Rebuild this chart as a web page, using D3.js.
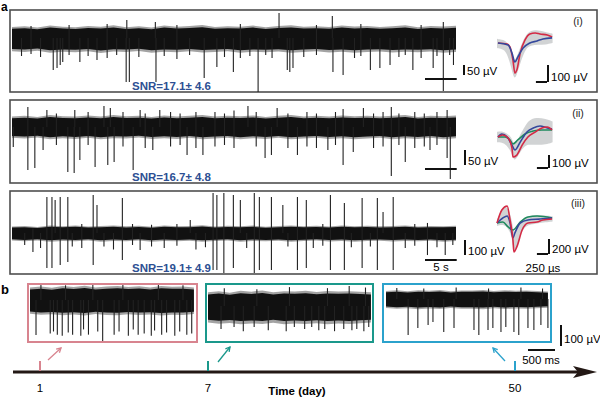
<!DOCTYPE html>
<html><head><meta charset="utf-8">
<script src="https://cdn.jsdelivr.net/npm/d3@7"></script>
<style>body{margin:0;background:#fff}svg{display:block}text{font-family:Arial,"Liberation Sans",sans-serif}</style>
</head><body><svg id="c" width="600" height="399"></svg>
<script>
// ---------- DATA ----------
const panelLabels = ["(i)", "(ii)", "(iii)"];
const snrTexts = ["SNR=17.1\u00b1 4.6", "SNR=16.7\u00b1 4.8", "SNR=19.1\u00b1 4.9"];
const traceScaleLabels = ["50 \u00b5V", "50 \u00b5V", "100 \u00b5V"];
const traceScaleValues = [50, 50, 100];
const waveScaleLabels = ["100 \u00b5V", "100 \u00b5V", "200 \u00b5V"];
const waveScaleValues = [100, 100, 200];
const timeBarLabel = "5 s", timeBarValue = 5;
const waveTimeLabel = "250 \u00b5s", waveTimeValue = 0.25;

// envelope sample times (s) for panel a traces
const envTA = [0,2,4,6,8,10,12,14,16,18,20,22,24,26,28,30,32,34,36,38,40,42,44,46,48,50,52,54,56,58,60,62,64,66,68,70];
const upA1 = [46,49,44,52,47,45,50,47,53,45,49,44,52,47,50,54,46,49,47,52,45,50,53,47,49,46,52,48,50,46,49,53,45,50,48,51];
const loA1 = [-55,-58,-53,-61,-57,-59,-55,-62,-56,-58,-54,-61,-57,-59,-55,-60,-58,-55,-61,-57,-59,-56,-61,-58,-55,-60,-57,-61,-58,-56,-60,-57,-59,-56,-61,-58];
const upA2 = [29,31,28,33,30,29,32,29,33,30,31,28,32,29,31,33,29,31,30,32,28,31,33,29,31,29,32,30,31,29,31,33,28,31,30,32];
const loA2 = [-30,-32,-29,-34,-31,-33,-30,-34,-31,-32,-29,-33,-31,-33,-30,-34,-32,-30,-34,-31,-33,-30,-34,-32,-30,-33,-31,-34,-32,-30,-34,-31,-33,-30,-34,-31];
const upA3 = [36,39,34,41,38,42,36,39,41,37,40,35,41,38,39,43,36,40,38,41,35,39,42,38,40,36,41,38,40,37,39,42,36,39,38,40];
const loA3 = [-42,-46,-41,-48,-44,-46,-42,-49,-44,-46,-41,-48,-44,-46,-43,-48,-45,-42,-48,-44,-46,-43,-48,-45,-42,-47,-44,-48,-45,-43,-47,-44,-46,-43,-48,-45];

// spikes: [time s, positive peak uV, negative peak uV]
const spikesA1 = [[1.5,0,-90],[3.0,60,-80],[4.5,0,-95],[6.5,0,-160],[7.1,0,-150],[7.6,0,-135],[8.0,0,-120],[9.0,65,-85],[10.7,0,-120],[12.0,0,-90],[13.4,0,-110],[15.0,70,-100],[16.5,0,-85],[18.0,0,-220],[18.1,90,0],[18.5,0,-220],[20.0,0,-95],[22.6,80,0],[22.7,0,-220],[24.0,0,-90],[26.0,65,-105],[28.0,0,-85],[30.3,0,-200],[32.3,0,-145],[33.5,0,-95],[34.9,0,-170],[36.0,70,-100],[37.5,0,-90],[38.8,0,-270],[40.0,0,-85],[41.0,0,-100],[42.1,125,0],[43.4,0,-160],[43.8,0,-170],[44.3,0,-150],[46.0,0,-95],[48.0,65,-85],[50.5,110,0],[50.6,0,-170],[52.2,0,-185],[54.0,0,-100],[55.0,70,-90],[56.5,0,-160],[58.0,0,-150],[59.6,0,-135],[61.0,0,-95],[62.0,0,-85],[63.2,0,-160],[64.5,65,-100],[66.4,0,-150],[67.0,0,-90],[68.0,80,-265],[69.0,0,-85],[69.6,0,-135]];
const spikesA2 = [[0.2,0,-67],[2.5,67,-143],[3.6,0,-137],[4.9,0,-77],[5.5,57,0],[7.0,45,-60],[8.8,0,-150],[9.8,0,-153],[9.9,57,0],[10.7,0,-110],[12.0,50,-60],[13.1,0,-133],[14.5,70,0],[15.1,0,-127],[15.5,63,0],[16.1,0,-117],[17.5,50,-65],[19.1,0,-143],[20.2,57,0],[21.0,45,-70],[22.2,0,-77],[23.3,57,0],[25.0,50,-65],[26.5,45,-60],[27.6,0,-93],[29.0,50,-70],[30.1,0,-93],[32.0,50,-65],[33.5,45,-60],[35.0,55,-70],[37.2,70,0],[38.5,50,-65],[39.9,0,-103],[40.9,0,-93],[41.8,63,0],[43.5,45,-70],[45.0,0,-93],[46.5,50,-65],[48.0,45,-70],[49.8,0,-77],[51.0,50,-60],[52.2,60,-127],[53.8,0,-83],[55.4,63,0],[57.0,45,-70],[58.5,50,-65],[59.8,67,-163],[61.0,45,-60],[62.0,0,-117],[63.5,50,-70],[65.0,45,-65],[65.9,0,-77],[67.0,50,-60],[68.6,57,-103],[69.1,0,-173]];
const spikesA3 = [[2.0,0,-80],[3.3,30,-127],[4.5,0,-100],[5.5,240,-233],[6.3,240,-233],[6.8,220,0],[7.6,240,-213],[8.8,240,-193],[9.5,0,-90],[11.0,60,-100],[12.8,253,-213],[13.4,187,0],[14.5,0,-90],[16.0,0,-110],[17.4,233,-180],[19.0,60,-80],[20.2,0,-113],[22.0,55,-90],[24.0,0,-100],[26.0,60,-85],[28.1,87,0],[29.0,0,-110],[30.5,0,-95],[31.7,267,-247],[32.3,253,-247],[33.4,267,-267],[34.9,253,-233],[36.0,220,0],[37.0,0,-100],[38.2,267,-267],[39.0,240,-247],[40.9,240,-247],[42.7,187,0],[43.5,0,-90],[45.0,240,-247],[46.4,220,-233],[47.5,0,-100],[49.0,60,-85],[50.2,253,-247],[52.4,200,-247],[53.5,0,-95],[55.2,233,-233],[56.5,0,-90],[57.6,233,-247],[58.5,140,0],[60.1,240,-247],[62.0,0,-100],[63.5,60,-85],[65.5,67,-147],[67.0,0,-95],[68.3,0,-147],[69.5,0,-80]];

// spike waveforms: time (ms), amplitude (uV)
const waveT1 = [0.02,0.21,0.27,0.33,0.37,0.41,0.48,0.58,0.68,0.79,0.89,1.04,1.14];
const waveRed1 = [0,-6,-24,-100,-177,-159,-59,18,53,59,53,47,35];
const waveTb1 = [0.02,0.23,0.31,0.37,0.43,0.54,0.68,0.83,0.95,1.14];
const waveBlue1 = [0,-12,-59,-112,-83,-30,0,12,24,30];
const waveT2r = [0.02,0.12,0.23,0.31,0.33,0.41,0.52,0.64,0.79,0.93,1.04,1.14];
const waveRed2 = [0,15,-8,-85,-154,-139,-62,0,38,69,77,54];
const waveT2b = [0.02,0.10,0.21,0.31,0.37,0.48,0.62,0.75,0.89,1.04,1.14];
const waveBlue2 = [0,23,0,-62,-100,-39,39,69,85,69,62];
const waveT2g = [0.02,0.17,0.27,0.33,0.43,0.58,0.75,0.93,1.14];
const waveGreen2 = [0,0,-23,-54,-23,23,46,54,54];
const waveT3r = [0,0.10,0.21,0.27,0.33,0.35,0.41,0.52,0.64,0.83,0.95,1.14];
const waveRed3 = [0,173,226,40,-226,-386,-319,-93,0,13,40,53];
const waveT3b = [0,0.12,0.21,0.27,0.33,0.37,0.48,0.64,0.89,1.14];
const waveBlue3 = [0,67,93,0,-200,-133,0,40,53,67];
const waveT3g = [0,0.12,0.23,0.33,0.48,0.64,0.83,1.14];
const waveGreen3 = [0,13,-53,-93,13,80,93,67];
// grey spread of all waveforms
const bandT = [0,0.1,0.2,0.3,0.35,0.4,0.5,0.6,0.7,0.85,1.0,1.15];
const bandHi1 = [25,20,10,-40,-110,-90,-10,50,75,75,65,55];
const bandLo1 = [-30,-35,-50,-150,-210,-200,-100,-30,-15,-10,-10,0];
const bandHi2 = [40,45,30,0,-60,-40,30,100,140,150,140,120];
const bandLo2 = [-40,-40,-60,-120,-180,-170,-100,-60,-60,-60,-60,-40];
const bandHi3 = [40,200,240,80,-150,-100,40,80,100,110,100,90];
const bandLo3 = [-40,-20,-40,-150,-400,-350,-120,-40,-20,0,10,20];

// panel b: recordings on days 1, 7, 50
const days = [1, 7, 50];
const dayLabels = ["1", "7", "50"];
const axisTitle = "Time (day)";
const envTB = [0,0.2,0.4,0.6,0.8,1.0,1.2,1.4,1.6,1.8,2.0,2.2,2.4,2.6,2.8,3.0];
const upB1 = [50,54,49,56,52,57,50,54,56,52,55,50,56,53,54,50];
const loB1 = [-55,-59,-57,-61,-58,-62,-56,-60,-61,-57,-60,-58,-62,-59,-60,-56];
const upB2 = [55,59,53,61,57,62,55,59,58,61,56,60,58,59,57,55];
const loB2 = [-65,-70,-67,-72,-69,-71,-66,-72,-69,-71,-68,-72,-69,-71,-68,-65];
const upB3 = [32,35,31,35,33,36,31,34,34,36,32,35,33,34,32,30];
const loB3 = [-36,-39,-37,-41,-38,-40,-36,-39,-39,-41,-37,-40,-38,-39,-37,-35];
const spikesB1 = [[0.11,0,-167],[0.2,75,0],[0.37,0,-160],[0.43,0,-150],[0.5,0,-165],[0.59,0,-170],[0.65,70,0],[0.7,0,-155],[0.78,0,-165],[0.93,0,-170],[0.98,0,-140],[1.07,0,-165],[1.15,80,0],[1.24,0,-150],[1.33,0,-200],[1.54,0,-165],[1.63,0,-150],[1.7,72,0],[1.8,0,-170],[1.89,0,-140],[1.98,0,-165],[2.09,0,-160],[2.22,0,-170],[2.28,0,-145],[2.35,78,0],[2.41,0,-165],[2.5,0,-155],[2.65,0,-170],[2.74,0,-150],[2.8,70,0],[2.87,0,-165],[2.96,0,-160]];
const spikesB2 = [[0.24,0,-110],[0.3,85,0],[0.48,0,-100],[0.65,0,-120],[0.85,0,-100],[0.9,80,0],[1.11,0,-115],[1.44,0,-120],[1.5,90,0],[1.59,0,-100],[1.78,0,-110],[1.91,0,-100],[2.04,0,-115],[2.15,0,-110],[2.2,85,0],[2.33,0,-120],[2.5,0,-110],[2.6,95,0],[2.65,0,-115],[2.74,0,-110],[2.87,0,-120],[2.9,88,0],[2.96,0,-100]];
const spikesB3 = [[0.2,52,0],[0.41,0,-171],[0.59,0,-138],[0.7,50,0],[0.78,0,-124],[0.87,0,-110],[1.07,0,-157],[1.26,0,-138],[1.3,55,0],[1.63,0,-148],[1.72,0,-171],[1.89,0,-148],[1.9,50,0],[1.98,0,-138],[2.13,0,-157],[2.22,0,-133],[2.37,0,-157],[2.46,0,-171],[2.5,55,0],[2.63,0,-138],[2.74,0,-148],[2.87,0,-124],[2.9,50,0],[3.0,0,-138]];
const bScaleLabelV = "100 \u00b5V", bScaleV = 100;
const bScaleLabelT = "500 ms", bScaleT = 0.5;

// ---------- DRAW ----------
const svg = d3.select("#c");
const INK = "#111";
const colPink = "#d8848f", colTeal = "#1a988b", colBlue = "#2ba2cc";
const waveRed = "#d42a45", waveBlueC = "#34489c", waveGreenC = "#1f8a5e";

function drawTrace(g, x, y, envT, up, lo, spikes) {
  // soft fringe of the noise band
  const fringe = d3.area().x((d, i) => x(envT[i])).y0((d, i) => y(lo[i] * 1.2)).y1(d => y(d * 1.2));
  g.append("path").datum(up).attr("d", fringe).attr("fill", "#333").attr("opacity", 0.45);
  const area = d3.area().x((d, i) => x(envT[i])).y0((d, i) => y(lo[i])).y1(d => y(d));
  g.append("path").datum(up).attr("d", area).attr("fill", INK);
  g.selectAll(null).data(spikes).join("line")
    .attr("x1", d => x(d[0])).attr("x2", d => x(d[0]))
    .attr("y1", d => y(d[1])).attr("y2", d => y(d[2]))
    .attr("stroke", "#222").attr("stroke-width", 1.1);
}

svg.append("text").attr("x", 1).attr("y", 11).attr("font-size", 12).attr("font-weight", "bold").text("a");
svg.append("text").attr("x", 1).attr("y", 294).attr("font-size", 13).attr("font-weight", "bold").text("b");

const panels = [
  {top: 10, bot: 92, cy: 38, k: 5, env: [upA1, loA1], sp: spikesA1, wy0: 43, wk: 100/17,
   waves: [[waveT1, waveRed1, waveRed], [waveTb1, waveBlue1, waveBlueC]], band: [bandHi1, bandLo1],
   tsb: {x: 464, yb: 75}, hbar: 79, wsb: {x: 548, yb: 82}, snrY: 90, labY: 25},
  {top: 100, bot: 183, cy: 127, k: 10/3, env: [upA2, loA2], sp: spikesA2, wy0: 137, wk: 100/13,
   waves: [[waveT2g, waveGreen2, waveGreenC], [waveT2b, waveBlue2, waveBlueC], [waveT2r, waveRed2, waveRed]], band: [bandHi2, bandLo2],
   tsb: {x: 465, yb: 165}, hbar: 169, wsb: {x: 549, yb: 168}, snrY: 181, labY: 117},
  {top: 191, bot: 274, cy: 233, k: 20/3, env: [upA3, loA3], sp: spikesA3, wy0: 223, wk: 200/15,
   waves: [[waveT3g, waveGreen3, waveGreenC], [waveT3b, waveBlue3, waveBlueC], [waveT3r, waveRed3, waveRed]], band: [bandHi3, bandLo3],
   tsb: {x: 465, yb: 255}, hbar: 260, wsb: {x: 549, yb: 254}, snrY: 272, labY: 207}
];

const xA = d3.scaleLinear().domain([0, 70]).range([12, 456]);
const xW = d3.scaleLinear().domain([0, 1.2]).range([497, 555]);

panels.forEach((p, i) => {
  const g = svg.append("g");
  g.append("rect").attr("x", 10).attr("y", p.top).attr("width", 587).attr("height", p.bot - p.top)
    .attr("fill", "none").attr("stroke", "#4f4f4f").attr("stroke-width", 1.6);
  const y = d3.scaleLinear().domain([0, 100]).range([p.cy, p.cy - 100 / p.k]);
  drawTrace(g, xA, y, envTA, p.env[0], p.env[1], p.sp);
  // time scale bar
  g.append("line").attr("x1", 425).attr("x2", 425 + xA(timeBarValue) - xA(0)).attr("y1", p.hbar).attr("y2", p.hbar)
    .attr("stroke", INK).attr("stroke-width", 2);
  if (i === 2) g.append("text").attr("x", 441).attr("y", 271).attr("font-size", 11.5).attr("text-anchor", "middle").text(timeBarLabel);
  // vertical trace scale bar
  const h = y(0) - y(traceScaleValues[i]);
  g.append("line").attr("x1", p.tsb.x).attr("x2", p.tsb.x).attr("y1", p.tsb.yb).attr("y2", p.tsb.yb - h)
    .attr("stroke", INK).attr("stroke-width", 2);
  g.append("text").attr("x", p.tsb.x + 3).attr("y", p.tsb.yb).attr("font-size", 11.5).text(traceScaleLabels[i]);
  // waveforms
  const yw = d3.scaleLinear().domain([0, 100]).range([p.wy0, p.wy0 - 100 / p.wk]);
  const bandArea = d3.area().x((d, j) => xW(bandT[j])).y0((d, j) => yw(p.band[1][j])).y1(d => yw(d)).curve(d3.curveBasis);
  g.append("path").datum(p.band[0]).attr("d", bandArea).attr("fill", "#c9cbcc").attr("opacity", 0.85);
  p.waves.forEach(w => {
    const line = d3.line().x((d, j) => xW(w[0][j])).y(d => yw(d)).curve(d3.curveMonotoneX);
    g.append("path").datum(w[1]).attr("d", line).attr("fill", "none").attr("stroke", w[2]).attr("stroke-width", 1.6);
  });
  const wh = yw(0) - yw(waveScaleValues[i]);
  const wl = xW(waveTimeValue) - xW(0);
  g.append("line").attr("x1", p.wsb.x).attr("x2", p.wsb.x).attr("y1", p.wsb.yb).attr("y2", p.wsb.yb - wh)
    .attr("stroke", INK).attr("stroke-width", 2);
  g.append("line").attr("x1", p.wsb.x - wl).attr("x2", p.wsb.x - 1).attr("y1", p.wsb.yb).attr("y2", p.wsb.yb)
    .attr("stroke", INK).attr("stroke-width", 2);
  g.append("text").attr("x", p.wsb.x + 3).attr("y", p.wsb.yb - 1).attr("font-size", 11.5).text(waveScaleLabels[i]);
  if (i === 2) g.append("text").attr("x", 543).attr("y", 272).attr("font-size", 11.5).attr("text-anchor", "middle").text(waveTimeLabel);
  g.append("text").attr("x", 578).attr("y", p.labY).attr("font-size", 10.5).attr("text-anchor", "middle").attr("fill", "#222").text(panelLabels[i]);
  g.append("text").attr("x", 132).attr("y", p.snrY).attr("font-size", 11.5).attr("font-weight", "bold").attr("fill", "#2d4f93").text(snrTexts[i]);
});

// ---------- panel b ----------
const bBoxes = [
  {x0: 28, x1: 197, tx: [30, 195], cy: 300, col: colPink, env: [upB1, loB1], sp: spikesB1},
  {x0: 206, x1: 373, tx: [208, 372], cy: 306, col: colTeal, env: [upB2, loB2], sp: spikesB2},
  {x0: 383, x1: 551, tx: [386, 549], cy: 299, col: colBlue, env: [upB3, loB3], sp: spikesB3}
];
const yBk = 21 / 100;
bBoxes.forEach(b => {
  const g = svg.append("g");
  const x = d3.scaleLinear().domain([0, 3.02]).range(b.tx);
  const y = d3.scaleLinear().domain([0, 100]).range([b.cy, b.cy - 100 * yBk]);
  drawTrace(g, x, y, envTB, b.env[0], b.env[1], b.sp);
  g.append("rect").attr("x", b.x0).attr("y", 284).attr("width", b.x1 - b.x0).attr("height", 58)
    .attr("fill", "none").attr("stroke", b.col).attr("stroke-width", 2);
});
// b scale bars
{
  const xs = d3.scaleLinear().domain([0, 3.02]).range([386, 549]);
  const ys = d3.scaleLinear().domain([0, 100]).range([346, 346 - 100 * yBk]);
  svg.append("line").attr("x1", 561).attr("x2", 561).attr("y1", ys(0)).attr("y2", ys(bScaleV)).attr("stroke", INK).attr("stroke-width", 2);
  svg.append("text").attr("x", 564).attr("y", 343).attr("font-size", 11.5).text(bScaleLabelV);
  svg.append("line").attr("x1", 528).attr("x2", 528 + xs(bScaleT) - xs(0)).attr("y1", 350).attr("y2", 350).attr("stroke", INK).attr("stroke-width", 2);
  svg.append("text").attr("x", 541).attr("y", 364).attr("font-size", 11.5).attr("text-anchor", "middle").text(bScaleLabelT);
}
// time axis
const xDay = d3.scaleLinear().domain(days).range([40, 208, 515]);
svg.append("line").attr("x1", 13).attr("x2", 580).attr("y1", 372).attr("y2", 372).attr("stroke", "#231815").attr("stroke-width", 3);
svg.append("path").attr("d", "M573,366 L597,372 L573,378 L578,372 Z").attr("fill", "#231815");
const tickCols = [colPink, colTeal, colBlue];
days.forEach((d, i) => {
  svg.append("line").attr("x1", xDay(d)).attr("x2", xDay(d)).attr("y1", 361).attr("y2", 371)
    .attr("stroke", tickCols[i]).attr("stroke-width", 2);
  svg.append("text").attr("x", xDay(d)).attr("y", 392).attr("font-size", 11.5).attr("text-anchor", "middle").text(dayLabels[i]);
});
svg.append("text").attr("x", 297).attr("y", 395).attr("font-size", 11.5).attr("font-weight", "bold").attr("text-anchor", "middle").text(axisTitle);
// small arrows pointing from tick to recording
function arrow(x1, y1, x2, y2, col) {
  svg.append("line").attr("x1", x1).attr("y1", y1).attr("x2", x2).attr("y2", y2).attr("stroke", col).attr("stroke-width", 1.3);
  const a = Math.atan2(y2 - y1, x2 - x1), L = 5;
  const p = [[x2 - L * Math.cos(a - 0.5), y2 - L * Math.sin(a - 0.5)], [x2, y2], [x2 - L * Math.cos(a + 0.5), y2 - L * Math.sin(a + 0.5)]];
  svg.append("path").attr("d", d3.line()(p)).attr("fill", "none").attr("stroke", col).attr("stroke-width", 1.3);
}
arrow(48, 360, 61, 348, colPink);
arrow(218, 362, 230, 347, colTeal);
arrow(505, 361, 493, 348, colBlue);
</script></body></html>
